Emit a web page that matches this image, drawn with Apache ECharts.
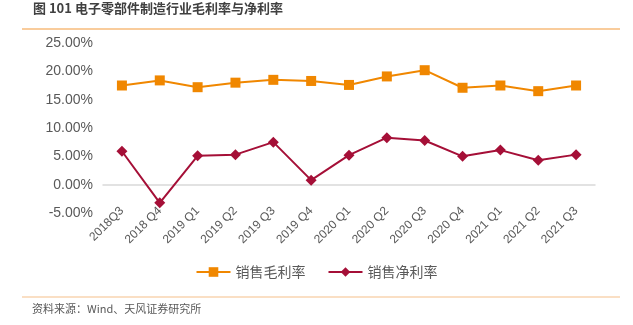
<!DOCTYPE html>
<html><head><meta charset="utf-8">
<script src="https://cdn.jsdelivr.net/npm/echarts@6/dist/echarts.min.js"></script>
<style>html,body{margin:0;padding:0;background:#fff}#c{width:633px;height:325px}</style>
</head><body><div id="c"></div>
<script>
const categories = ['2018Q3','2018 Q4','2019 Q1','2019 Q2','2019 Q3','2019 Q4','2020 Q1','2020 Q2','2020 Q3','2020 Q4','2021 Q1','2021 Q2','2021 Q3'];
const grossMargin = [17.5, 18.4, 17.2, 18.0, 18.5, 18.3, 17.6, 19.1, 20.2, 17.1, 17.5, 16.5, 17.5];
const netMargin = [5.9, -3.2, 5.1, 5.3, 7.5, 0.8, 5.2, 8.3, 7.8, 5.0, 6.1, 4.3, 5.3];
const yTicks = {min: -5, max: 25, interval: 5};
const seriesNames = ['销售毛利率', '销售净利率'];
const titleText = '图 101 电子零部件制造行业毛利率与净利率';
const sourceText = '资料来源：Wind、天风证券研究所';

const font = '"Noto Sans CJK SC", "Liberation Sans", sans-serif';
const chart = echarts.init(document.getElementById('c'));
chart.setOption({
  backgroundColor: '#fff',
  animation: false,
  textStyle: {fontFamily: font},
  graphic: [
    {type: 'text', left: 33, top: 2, style: {text: titleText, font: 'bold 13px ' + font, fill: '#404040'}},
    {type: 'line', shape: {x1: 22, y1: 29, x2: 620, y2: 29}, style: {stroke: '#F39A3B', lineWidth: 1.2}},
    {type: 'line', shape: {x1: 22, y1: 297, x2: 620, y2: 297}, style: {stroke: '#F6C08A', lineWidth: 1.2}},
    {type: 'text', left: 32, top: 303, style: {text: sourceText, font: '11px ' + font, fill: '#595959'}}
  ],
  legend: {
    data: seriesNames,
    left: 'center', top: 260, itemWidth: 34, itemHeight: 12, itemGap: 22,
    textStyle: {color: '#595959', fontSize: 14, fontFamily: font}
  },
  grid: {left: 103, right: 38, top: 43, bottom: 112, containLabel: false},
  xAxis: {
    type: 'category', data: categories, boundaryGap: true,
    axisLine: {onZero: true, lineStyle: {color: '#D9D9D9', width: 1.5}},
    axisTick: {show: false},
    axisLabel: {rotate: 45, color: '#595959', fontSize: 12, fontFamily: '"Liberation Sans", sans-serif', interval: 0, margin: -4}
  },
  yAxis: {
    type: 'value', min: yTicks.min, max: yTicks.max, interval: yTicks.interval,
    axisLine: {show: false}, axisTick: {show: false}, splitLine: {show: false},
    axisLabel: {color: '#595959', fontSize: 14, fontFamily: '"Liberation Sans", sans-serif', margin: 10,
      formatter: v => v.toFixed(2) + '%'}
  },
  series: [
    {name: seriesNames[0], type: 'line', data: grossMargin, symbol: 'rect', symbolSize: 10,
      itemStyle: {color: '#F08700'}, lineStyle: {color: '#F08700', width: 2}},
    {name: seriesNames[1], type: 'line', data: netMargin, symbol: 'diamond', symbolSize: 11,
      itemStyle: {color: '#A50F37'}, lineStyle: {color: '#A50F37', width: 2}}
  ]
});
</script></body></html>
